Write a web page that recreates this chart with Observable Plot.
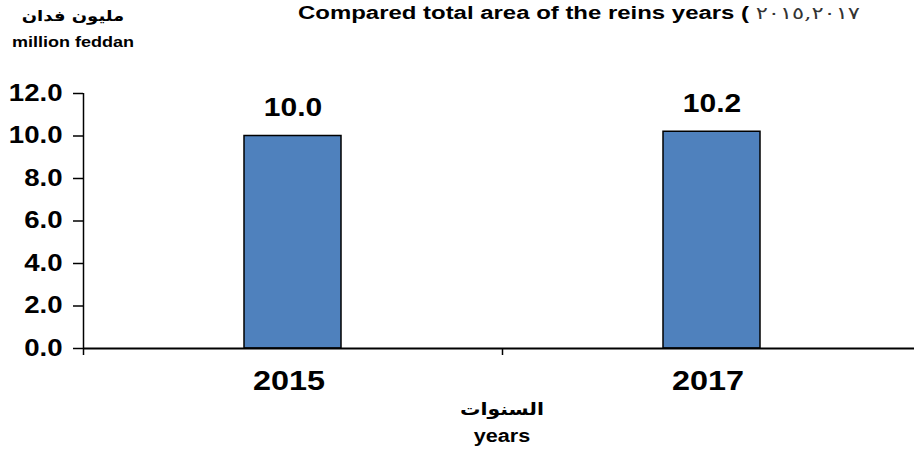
<!DOCTYPE html>
<html>
<head>
<meta charset="utf-8">
<script src="https://cdn.jsdelivr.net/npm/d3@7"></script>
<script src="https://cdn.jsdelivr.net/npm/@observablehq/plot@0.6"></script>
<style>
  html, body { margin: 0; padding: 0; background: #fff; }
  #wrap { position: relative; width: 914px; height: 456px; overflow: hidden;
          font-family: "Liberation Sans", Arial, "DejaVu Sans", sans-serif; font-weight: bold; color: #000; }
  #chart { position: absolute; left: 0; top: 0; }
  .lbl { position: absolute; white-space: nowrap; line-height: 1; }
  .c { transform: translateX(-50%) scaleX(1.2); transform-origin: center; }
  #title { left: 298px; top: 4px; font-size: 18px; transform: scaleX(1.33); transform-origin: left center; }
  #title .ar { font-family: "DejaVu Serif", "DejaVu Sans", serif; font-weight: normal; color: #333; font-size: 17px; letter-spacing: 1px; }
</style>
</head>
<body>
<div id="wrap">
  <div id="chart"></div>
  <div id="title" class="lbl">Compared total area of the reins years ( <span class="ar">٢٠١٥,٢٠١٧</span></div>
  <div class="lbl c" style="left:73px; top:9px; font-size:15px; font-family:'DejaVu Sans', sans-serif;">مليون فدان</div>
  <div class="lbl c" style="left:73px; top:34px; font-size:15px;">million feddan</div>
  <div class="lbl c" style="left:502px; top:401px; font-size:17px; font-family:'DejaVu Sans', sans-serif;">السنوات</div>
  <div class="lbl c" style="left:502px; top:427px; font-size:18px;">years</div>
</div>
<script>
const years = ["2015", "2017"];
const values = [10.0, 10.2];
const yTicks = [0, 2, 4, 6, 8, 10, 12];
const xBoundaries = [0, 1, 2];

const data = years.map((year, i) => ({ i, year, value: values[i] }));

const chart = Plot.plot({
  width: 914,
  height: 456,
  marginTop: 93,
  marginBottom: 108,
  marginLeft: 83,
  marginRight: 0,
  style: { fontFamily: '"Liberation Sans", Arial, sans-serif', fontWeight: "bold", background: "white", color: "black" },
  x: { type: "linear", domain: [0, 2], range: [83, 921] },
  y: { domain: [0, 12], range: [348, 93] },
  marks: [
    Plot.rect(data, {
      x1: d => d.i, x2: d => d.i + 1, y1: 0, y2: "value",
      insetLeft: 161, insetRight: 161,
      fill: "#4F81BD", stroke: "black", strokeWidth: 1.5
    }),
    Plot.axisY({ ticks: yTicks, tickFormat: d3.format(".1f"), tickSize: 10, tickPadding: 11, fontSize: 23, strokeWidth: 1.5, label: null }),
    Plot.axisX({ ticks: xBoundaries, tickFormat: () => "", tickSize: 7, strokeWidth: 1.5, label: null }),
    Plot.ruleX([0], { stroke: "black", strokeWidth: 1.5 }),
    Plot.ruleY([0], { stroke: "black", strokeWidth: 2 }),
    Plot.text(data, { x: d => d.i + 0.5, y: 0, text: "year", dy: 33, fontSize: 27, dx: -4 }),
    Plot.text(data, { x: d => d.i + 0.5, y: "value", text: d => d.value.toFixed(1), dy: -28, fontSize: 25 })
  ]
});

chart.querySelectorAll("text").forEach(t => {
  const tr = t.getAttribute("transform");
  if (tr) {
    t.setAttribute("transform", tr + " scale(1.2,1)");
  } else {
    const x = +(t.getAttribute("x") || 0), y = +(t.getAttribute("y") || 0);
    t.setAttribute("transform", `translate(${x},${y}) scale(1.2,1)`);
    t.removeAttribute("x"); t.removeAttribute("y");
  }
});

document.getElementById("chart").appendChild(chart);
</script>
</body>
</html>
